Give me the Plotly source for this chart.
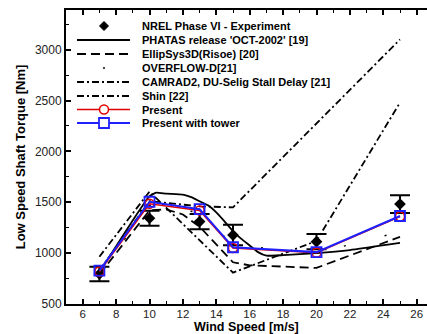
import plotly.graph_objects as go

# ---------------- data ----------------
exp_x = [7, 10, 13, 15, 20, 25]
exp_y = [795, 1343, 1310, 1178, 1113, 1482]
exp_err = [72, 73, 74, 100, 75, 87]

phatas_x = [7, 10, 10.4, 11, 12, 12.5, 13, 13.5, 14, 14.5, 15, 15.5, 16, 16.5, 17, 18, 20, 22, 25]
phatas_y = [810, 1560, 1595, 1585, 1575, 1550, 1510, 1470, 1400, 1310, 1215, 1140, 1075, 1010, 975, 980, 1000, 1030, 1100]

ellip_x = [7, 10, 11, 12, 13, 14, 15, 16, 18, 20, 25]
ellip_y = [790, 1420, 1430, 1380, 1260, 1090, 910, 880, 870, 855, 1160]

overflow_x = [7, 10, 13, 15, 20, 25]
overflow_y = [800, 1470, 1400, 1080, 1000, 1210]

camrad_x = [7, 10, 13, 15, 25]
camrad_y = [830, 1510, 1460, 1450, 3100]

shin_x = [7, 10, 15, 20, 25]
shin_y = [965, 1605, 808, 1120, 2480]

present_x = [7, 10, 13, 15, 20, 25]
present_y = [820, 1485, 1420, 1050, 1005, 1360]

tower_x = [7, 10, 13, 15, 20, 25]
tower_y = [828, 1505, 1432, 1058, 1010, 1365]

legend_names = [
    "NREL Phase VI - Experiment",
    "PHATAS release 'OCT-2002' [19]",
    "EllipSys3D(Risoe) [20]",
    "OVERFLOW-D[21]",
    "CAMRAD2, DU-Selig Stall Delay [21]",
    "Shin [22]",
    "Present",
    "Present with tower",
]

x_tick_vals = [6, 8, 10, 12, 14, 16, 18, 20, 22, 24, 26]
y_tick_vals = [500, 1000, 1500, 2000, 2500, 3000]
x_title = "Wind Speed [m/s]"
y_title = "Low Speed Shaft Torque [Nm]"

# ---------------- styling ----------------
FONT = "Liberation Sans, Arial, sans-serif"
W, H = 427, 334
ML, MR, MT, MB = 66, 0, 10, 30
PW, PH = W - ML - MR, H - MT - MB

DASH = "9px,5px"
DASHDOT = "7px,3px,2px,3px"
DOTTED = "2px,40px"

fig = go.Figure()

fig.add_trace(go.Scatter(
    x=exp_x, y=exp_y, mode="markers", name=legend_names[0],
    marker=dict(symbol="diamond", size=9, color="black"),
    error_y=dict(type="data", array=exp_err, visible=True, color="black", thickness=2, width=10),
    showlegend=False))

fig.add_trace(go.Scatter(x=phatas_x, y=phatas_y, mode="lines", name=legend_names[1],
                         line=dict(color="black", width=1.8, shape="spline", smoothing=0.4), showlegend=False))
fig.add_trace(go.Scatter(x=ellip_x, y=ellip_y, mode="lines", name=legend_names[2],
                         line=dict(color="black", width=1.8, dash=DASH), showlegend=False))
fig.add_trace(go.Scatter(x=overflow_x, y=overflow_y, mode="lines", name=legend_names[3],
                         line=dict(color="black", width=1.5, dash=DOTTED), showlegend=False))
fig.add_trace(go.Scatter(x=camrad_x, y=camrad_y, mode="lines", name=legend_names[4],
                         line=dict(color="black", width=1.8, dash=DASHDOT), showlegend=False))
fig.add_trace(go.Scatter(x=shin_x, y=shin_y, mode="lines", name=legend_names[5],
                         line=dict(color="black", width=1.8, dash=DASHDOT), showlegend=False))
fig.add_trace(go.Scatter(x=present_x, y=present_y, mode="lines+markers", name=legend_names[6],
                         line=dict(color="#e00000", width=1.6),
                         marker=dict(symbol="circle-open", size=9, color="#e00000", line=dict(width=1.5)),
                         showlegend=False))
fig.add_trace(go.Scatter(x=tower_x, y=tower_y, mode="lines+markers", name=legend_names[7],
                         line=dict(color="#2020ff", width=2),
                         marker=dict(symbol="square-open", size=10, color="#2020ff", line=dict(width=1.8)),
                         showlegend=False))

# ---------------- manual legend (compact spacing) ----------------
def px2paper_x(px):
    return (px - ML) / PW

def px2paper_y(py):
    return (H - MB - py) / PH

rows_py = [26, 40, 54, 68, 82, 96, 109.5, 123]
sym_x0, sym_x1, sym_xc, text_x = 77, 130, 104, 140
styles = [
    dict(line=None, marker="diamond", color="black"),
    dict(line="solid", color="black", width=1.8),
    dict(line=DASH, color="black", width=1.8),
    dict(line=None, marker="dot", color="black"),
    dict(line=DASHDOT, color="black", width=1.8),
    dict(line=DASHDOT, color="black", width=1.8),
    dict(line="solid", color="#e00000", width=1.6, marker="circle"),
    dict(line="solid", color="#2020ff", width=2, marker="square"),
]
shapes = []
annotations = []
for name, py, st in zip(legend_names, rows_py, styles):
    yp = px2paper_y(py)
    if st.get("line"):
        shapes.append(dict(type="line", xref="paper", yref="paper",
                           x0=px2paper_x(sym_x0), x1=px2paper_x(sym_x1), y0=yp, y1=yp,
                           line=dict(color=st["color"], width=st["width"], dash=st["line"])))
    m = st.get("marker")
    xa = px2paper_x(sym_xc)
    if m == "diamond":
        shapes.append(dict(type="path", xref="paper", yref="paper", xsizemode="pixel", ysizemode="pixel",
                           xanchor=xa, yanchor=yp, path="M0,-4.5 L4.5,0 L0,4.5 L-4.5,0 Z",
                           fillcolor="black", line=dict(color="black", width=1)))
    elif m == "dot":
        shapes.append(dict(type="circle", xref="paper", yref="paper", xsizemode="pixel", ysizemode="pixel",
                           xanchor=xa, yanchor=yp, x0=-0.8, x1=0.8, y0=-0.8, y1=0.8,
                           fillcolor="black", line=dict(color="black", width=0.5)))
    elif m == "circle":
        shapes.append(dict(type="circle", xref="paper", yref="paper", xsizemode="pixel", ysizemode="pixel",
                           xanchor=xa, yanchor=yp, x0=-4.5, x1=4.5, y0=-4.5, y1=4.5,
                           fillcolor="white", line=dict(color=st["color"], width=1.5)))
    elif m == "square":
        shapes.append(dict(type="rect", xref="paper", yref="paper", xsizemode="pixel", ysizemode="pixel",
                           xanchor=xa, yanchor=yp, x0=-5, x1=5, y0=-5, y1=5,
                           fillcolor="white", line=dict(color=st["color"], width=1.8)))
    annotations.append(dict(xref="paper", yref="paper", x=px2paper_x(text_x), y=yp,
                            xanchor="left", yanchor="middle", showarrow=False,
                            text="<b>%s</b>" % name, font=dict(family=FONT, size=11, color="black")))

# x-axis title as an annotation, placed under the tick labels
annotations.append(dict(xref="paper", yref="paper", x=0.5, y=px2paper_y(H + 1),
                        xanchor="center", yanchor="bottom", showarrow=False, borderpad=0,
                        text="<b>%s</b>" % x_title, font=dict(family=FONT, size=12.5, color="black")))

fig.update_layout(
    width=W, height=H,
    margin=dict(l=ML, r=MR, t=MT, b=MB, pad=0),
    paper_bgcolor="white", plot_bgcolor="white",
    font=dict(family=FONT, color="#222222", size=12),
    shapes=shapes, annotations=annotations,
    showlegend=False,
)

fig.update_xaxes(
    range=[5, 5 + PW / 16.7], tickvals=x_tick_vals,
    ticks="inside", ticklen=5, tickwidth=1.5, tickcolor="black",
    minor=dict(dtick=1, tick0=0, ticks="inside", ticklen=3, tickwidth=1.2, tickcolor="black"),
    showline=True, linecolor="black", linewidth=2, mirror="ticks",
    showgrid=False, zeroline=False, ticklabelstandoff=-2,
    tickfont=dict(size=11.5, color="#222222"),
)
fig.update_yaxes(
    range=[500, 3390], tickvals=y_tick_vals,
    ticks="inside", ticklen=5, tickwidth=1.5, tickcolor="black",
    minor=dict(dtick=250, tick0=0, ticks="inside", ticklen=3, tickwidth=1.2, tickcolor="black"),
    showline=True, linecolor="black", linewidth=2, mirror=False,
    showgrid=False, zeroline=False,
    tickfont=dict(size=12, color="#222222"),
    title=dict(text="<b>%s</b>" % y_title, font=dict(size=13, color="black"), standoff=6),
)

fig.write_html("out.html")
